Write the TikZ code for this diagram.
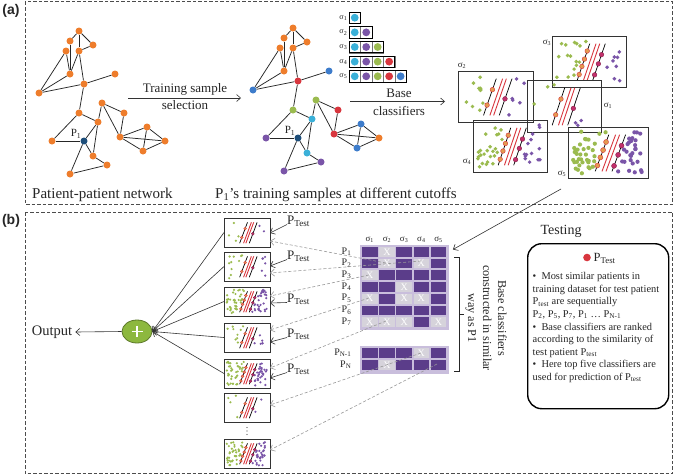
\documentclass[tikz,border=0pt]{standalone}
\usepackage{fontspec}
\setmainfont{Liberation Serif}
\newfontfamily\lsans{Liberation Sans}
\usetikzlibrary{arrows.meta,calc,shapes.geometric}
\definecolor{cor}{HTML}{EE7D2C}
\definecolor{ccy}{HTML}{3AB0D8}
\definecolor{cpu}{HTML}{7A55A8}
\definecolor{cgr}{HTML}{9BBB4F}
\definecolor{cre}{HTML}{D8363E}
\definecolor{cbl}{HTML}{3D7CCB}
\definecolor{cdb}{HTML}{1E4E7A}
\definecolor{mdark}{HTML}{5B3D8A}
\definecolor{mlight}{HTML}{C9BEDC}
\definecolor{mgray}{HTML}{D6D3DB}
\definecolor{svor}{HTML}{E39A4F}
\definecolor{svre}{HTML}{C2306B}
\definecolor{plusg}{HTML}{8DB83F}
\newcommand\sub[1]{\textsubscript{#1}}
\tikzset{
 nd/.style={circle, minimum size=7pt, inner sep=0pt},
 edge/.style={line width=0.75pt, black!85},
 panel/.style={draw=black!70, line width=0.9pt, dash pattern=on 3.5pt off 2pt},
 arr/.style={-{Straight Barb[length=4pt,width=7pt]}, line width=0.6pt, black!80},
 dasharr/.style={-{Straight Barb[length=4pt,width=7pt]}, line width=0.6pt, black!40, dash pattern=on 3pt off 2pt},
 clfbox/.style={draw=black!80, line width=0.7pt, inner sep=0pt, outer sep=0pt},
 txt/.style={inner sep=0pt, text=black!85},
 svo/.style={fill=svor, draw=cre, line width=0.4pt},
 svm/.style={fill=svre, draw=svre!70!black, line width=0.4pt},
}
% #1 name, #2 x, #3 y, #4 w, #5 h, #6 seed, #7 ngreen, #8 npurple
\newcommand\clf[8]{%
 \node[clfbox, minimum width=#4pt, minimum height=#5pt, anchor=north west] (#1) at (#2,#3) {};
 \begin{scope}[shift={(#2,#3)}, x={(#4pt,0pt)}, y={(0pt,-#5pt)}]
  \pgfmathsetmacro\dr{#4/38}
  \pgfmathsetmacro\sr{#4/32}
  \pgfmathsetseed{#6}
  \foreach \i in {1,...,#7}{
    \pgfmathsetmacro\yy{0.09+0.82*rnd}
    \pgfmathsetmacro\xx{0.06+(0.40-0.236*(\yy-0.15))*rnd}
    \fill[cgr] (\xx,\yy) circle[radius=\dr pt];
  }
  \foreach \i in {1,...,#8}{
    \pgfmathsetmacro\yy{0.09+0.82*rnd}
    \pgfmathsetmacro\xl{0.77-0.25*(\yy-0.15)}
    \pgfmathsetmacro\xx{\xl+(0.93-\xl)*rnd}
    \fill[cpu] (\xx,\yy) circle[radius=\dr pt];
  }
  \draw[black, line width=0.7pt] (0.51,0.15) -- (0.34,0.87);
  \draw[cre, line width=0.9pt] (0.595,0.15) -- (0.425,0.87);
  \draw[cre, line width=0.9pt] (0.645,0.15) -- (0.475,0.87);
  \draw[black, line width=0.7pt] (0.72,0.15) -- (0.55,0.87);
  \ifnum#7>15
   \foreach \t in {0.2,0.42,0.62,0.84} \filldraw[svo] ({0.51-0.17*\t},{0.15+0.72*\t}) circle[radius=\sr pt];
   \foreach \t in {0.3,0.55,0.85} \filldraw[svm] ({0.72-0.17*\t},{0.15+0.72*\t}) circle[radius=\sr pt];
  \else
   \foreach \t in {0.3,0.72} \filldraw[svo] ({0.51-0.17*\t},{0.15+0.72*\t}) circle[radius=\sr pt];
   \foreach \t in {0.55} \filldraw[svm] ({0.72-0.17*\t},{0.15+0.72*\t}) circle[radius=\sr pt];
  \fi
 \end{scope}}
\begin{document}
\begin{tikzpicture}[x=1pt,y=-1pt]
\useasboundingbox (0,0) rectangle (676,475);
\fill[white] (0,0) rectangle (676,475);
% panels
\draw[panel] (25,1.5) rectangle (672.5,204);
\draw[panel] (25,212) rectangle (672.5,473.5);
\node[txt, font=\lsans\bfseries\fontsize{14}{16}\selectfont] (lba) at (11,11) {(a)};
\node[txt, font=\lsans\bfseries\fontsize{14}{16}\selectfont] (lbb) at (11,221) {(b)};
% networks
\foreach \n/\x/\y/\ca/\cb in {A/79/31/cor/cor, B/70/41/cor/cor, C/93/45/cor/cor, D/66/51/cor/cor, E/79/51/cor/cor, F/70/74/cor/cor, G/115/74/cor/cbl, H/84/84/cor/cre, I/39/93/cor/cbl, J/102/103/cor/cgr, K/124/113/cor/cre, L/79/113/cor/cgr, M/98/122/cor/ccy, N/147/127/cor/cbl, O/120/137/cor/cre, P/84/141/cdb/cdb, Q/52/141/cor/cpu, R/165/141/cor/cor, S/143/151/cor/cbl, T/93/156/cor/ccy, U/107/165/cor/cpu, V/70/174/cor/cpu}
{ \node[nd, fill=\ca] (a\n) at (\x,\y) {};
  \node[nd, fill=\cb] (b\n) at ({\x+214},{\y-3}) {}; }
\foreach \u/\v in {A/C, A/E, C/E, A/B, B/F, D/F, E/F, D/I, F/I, I/H, E/H, H/G, H/L, L/Q, L/M, Q/P, M/P, M/J, M/T, J/K, J/O, K/O, O/N, O/R, O/S, N/R, N/S, S/R, P/T, P/V, T/U, V/U}
{ \draw[edge] (a\u) -- (a\v); \draw[edge] (b\u) -- (b\v); }
\node[txt, font=\fontsize{11}{12}\selectfont] (p1a) at (76,134) {P\sub{1}};
\node[txt, font=\fontsize{11}{12}\selectfont] (p1b) at (290,131) {P\sub{1}};
\node[txt, anchor=west, font=\fontsize{15}{17}\selectfont] (capa) at (32,195) {Patient-patient network};
\node[txt, anchor=west, font=\fontsize{15}{17}\selectfont] (capb) at (215,195) {P\sub{1}’s training samples at different cutoffs};
% training sample selection arrow
\coordinate (ts0) at (128,98);
\coordinate (ts1) at (241,98);
\draw[arr] (ts0) -- (ts1);
\node[txt, font=\fontsize{13}{15}\selectfont] (tsl1) at (185,89.5) {Training sample};
\node[txt, font=\fontsize{13}{15}\selectfont] (tsl2) at (185,105.5) {selection};
% sigma rows
\foreach \r in {1,...,5}{
  \pgfmathsetmacro\yr{17.7+14.65*(\r-1)}
  \node[txt, font=\fontsize{8}{9}\selectfont, anchor=east] (sl\r) at (347.5,\yr) {σ\sub{\r}};
  \foreach \c/\cc in {1/ccy,2/cpu,3/cgr,4/cre,5/cbl}{
    \ifnum\c>\r\relax\else
      \draw[black!55, line width=0.4pt] ({349+11.47*(\c-1)},{\yr-5.7}) rectangle +(11.47,11.4);
      \fill[\cc] ({349+11.47*(\c-1)+5.73},\yr) circle[radius=3.9pt];
    \fi}
  \draw[black, line width=0.8pt] (349,{\yr-5.7}) rectangle ({349+11.47*\r},{\yr+5.7});
}
% base classifiers arrow
\coordinate (bc0) at (350,101.5);
\coordinate (bc1) at (445,101.5);
\draw[arr] (bc0) -- (bc1);
\node[txt, font=\fontsize{13}{15}\selectfont] (bcl1) at (399,93) {Base};
\node[txt, font=\fontsize{13}{15}\selectfont] (bcl2) at (399,111) {classifiers};
% big classifiers
\clf{s2}{458}{71}{75}{51}{11}{10}{6}
\clf{s3}{552}{36}{74}{51}{12}{16}{8}
\clf{s1}{527}{80}{74}{52}{13}{3}{3}
\clf{s4}{473}{120}{74}{52}{14}{24}{14}
\clf{s5}{568}{127}{80}{51}{15}{36}{28}
\node[txt, font=\fontsize{9}{10}\selectfont] (ls2) at (462,66) {σ\sub{2}};
\node[txt, font=\fontsize{9}{10}\selectfont] (ls3) at (547,43) {σ\sub{3}};
\node[txt, font=\fontsize{9}{10}\selectfont] (ls1) at (608,106) {σ\sub{1}};
\node[txt, font=\fontsize{9}{10}\selectfont] (ls4) at (467,162) {σ\sub{4}};
\node[txt, font=\fontsize{9}{10}\selectfont] (ls5) at (562,174) {σ\sub{5}};
% ---------- panel b ----------
% matrix
\node[fill=mlight, minimum width=89pt, minimum height=85pt, anchor=north west, inner sep=0pt] (mat) at (359.5,244.5) {};
\node[fill=mlight, minimum width=89pt, minimum height=28pt, anchor=north west, inner sep=0pt] (matn) at (359.5,345.5) {};
\foreach \ry/\lab in {247/1, 258.7/2, 270.4/3, 282.1/4, 293.8/5, 305.5/6, 317.2/7, 348/{N-1}, 360.4/N}{
  \foreach \c in {1,...,5} \fill[mdark] ({362+17.2*(\c-1)},\ry) rectangle +(15.5,9.7);
  \node[txt, anchor=east, font=\fontsize{10}{11}\selectfont] at (351.5,{\ry+4.5}) {P\sub{\lab}};
}
\foreach \ry/\c in {247/2, 258.7/2, 258.7/4, 270.4/1, 282.1/3, 293.8/1, 293.8/3, 293.8/4, 317.2/1, 317.2/2, 317.2/3, 317.2/5, 348/4, 360.4/2}{
  \fill[mgray] ({362+17.2*(\c-1)},\ry) rectangle +(15.5,9.7);
  \node[txt, text=white, font=\fontsize{10}{10}\selectfont] at ({369.75+17.2*(\c-1)},{\ry+4.85}) {X};
}
\foreach \c in {1,...,5}
  \node[txt, font=\fontsize{9}{10}\selectfont] at ({369.75+17.2*(\c-1)},239.5) {σ\sub{\c}};
% bracket
\draw[black!85, line width=0.8pt] (454,257) -- (459,257) -- (459,371) -- (454,371);
\draw[black!85, line width=0.8pt] (459,314) -- (463.5,314);
\node[txt, rotate=-90, align=center, font=\fontsize{12.2}{15}\selectfont] (bcrot) at (486,318) {Base classifiers\\constructed in similar\\way as P1};
% arrow from sigma5 to matrix
\coordinate (s5o) at (561,189);
\draw[arr] (s5o) -- ([xshift=4pt,yshift=-5pt]mat.north east);
% small classifiers
\clf{c1}{224}{218}{46}{29}{21}{4}{2}
\clf{c2}{224}{252}{46}{29}{22}{10}{6}
\clf{c3}{224}{287}{46}{29}{23}{38}{32}
\clf{c4}{224}{323}{46}{29}{24}{9}{6}
\clf{c5}{224}{359}{46}{29}{25}{38}{32}
\clf{c6}{224}{393}{46}{29}{26}{4}{2}
\clf{c7}{224}{439}{46}{29}{27}{38}{32}
\foreach \yy in {427.5,431,434.5} \fill[black!70] (247,\yy) circle[radius=0.55pt];
% plus and output
\node[ellipse, fill=plusg, draw=plusg!65!black, line width=0.8pt, minimum width=30pt, minimum height=23pt, inner sep=0pt] (plus) at (137,331.5) {};
\draw[white, line width=1.2pt] ([xshift=-5.5pt]plus.center) -- ([xshift=5.5pt]plus.center);
\draw[white, line width=1.2pt] ([yshift=-5.5pt]plus.center) -- ([yshift=5.5pt]plus.center);
\node[txt, font=\fontsize{14.5}{16}\selectfont] (out) at (52,332) {Output};
\draw[arr] (plus.west) -- ([xshift=3pt]out.east);
\foreach \k in {1,...,5} \draw[arr] (c\k.west) -- (plus.east);
% P_Test labels
\foreach \k/\yy/\ye in {1/221.5/15, 2/256.5/14, 3/299.5/16, 4/334.5/19, 5/369.5/19}{
  \node[txt, anchor=west, font=\fontsize{13}{14}\selectfont] (pt\k) at (287,\yy) {P\sub{Test}};
  \draw[arr] ([yshift=-3pt]pt\k.west) -- ([yshift=-\ye pt]c\k.north east);
}
% dashed arrows from matrix
\foreach \k/\dx/\dy/\ye in {1/386/263/23, 2/421/261/21, 3/369/275/9, 4/369/298/7, 5/386/321/9, 6/421/353/12, 7/437/364/11}{
  \coordinate (d\k) at (\dx,\dy);
  \draw[dasharr] (d\k) -- ([yshift=-\ye pt]c\k.north east);
}
% testing box
\node[txt, font=\fontsize{14}{16}\selectfont] (testing) at (561,231) {Testing};
\node[draw=black, line width=1.4pt, rounded corners=14pt, minimum width=141pt, minimum height=165pt, anchor=north west, inner sep=0pt] (tbox) at (527,243) {};
\fill[cre] (587,257.5) circle[radius=3.8pt];
\node[txt, anchor=west, font=\fontsize{12.5}{14}\selectfont] (ptt) at (593.5,258.5) {P\sub{Test}};
\node[txt, anchor=north west, align=left, font=\fontsize{10.4}{12.6}\selectfont] (ttext) at (532.5,272.2) {%
•\ \ Most similar patients in\\
training dataset for test patient\\
P\sub{test} are sequentially\\
P\sub{2}, P\sub{5}, P\sub{7}, P\sub{1} … P\sub{N-1}\\
•\ \ Base classifiers are ranked\\
according to the similarity of\\
test patient P\sub{test}\\
•\ \ Here top five classifiers are\\
used for prediction of P\sub{test}};
\end{tikzpicture}
\end{document}
